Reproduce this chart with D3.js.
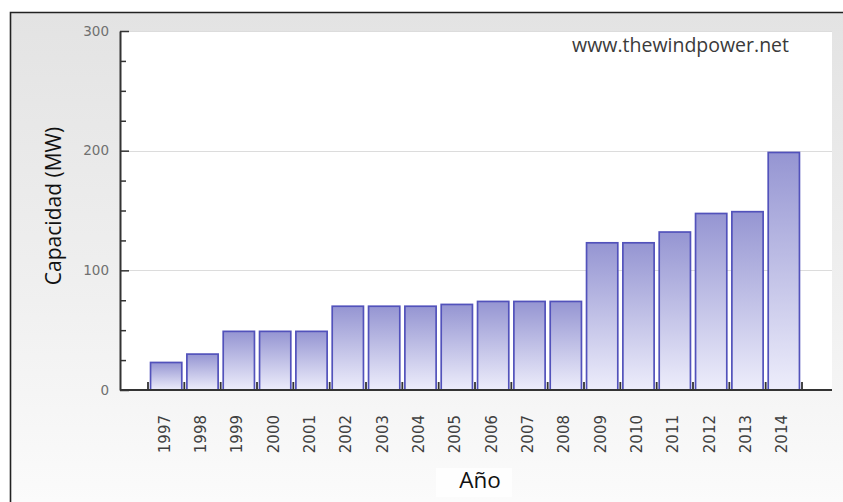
<!DOCTYPE html>
<html>
<head>
<meta charset="utf-8">
<script src="https://cdn.jsdelivr.net/npm/d3@7"></script>
<style>
  body { margin: 0; background: #fff; }
  svg { display: block; }
</style>
</head>
<body>
<script>
// Installed wind capacity per year (MW)
const years = ["1997","1998","1999","2000","2001","2002","2003","2004","2005",
               "2006","2007","2008","2009","2010","2011","2012","2013","2014"];
const capacity = [23, 30, 49, 49, 49, 70, 70, 70, 71.5,
                  74, 74, 74, 123, 123, 132, 147.5, 149, 198.5];
const yMajorTicks = [0, 100, 200, 300];
const yMinorTicks = [25, 50, 75, 125, 150, 175, 225, 250, 275];
const yTitle = "Capacidad (MW)";
const xTitle = "Año";
const sourceNote = "www.thewindpower.net";

const W = 843, H = 502;
const plot = { left: 120, right: 832, top: 31, bottom: 390 };

const svg = d3.select("body").append("svg")
  .attr("width", W).attr("height", H);

const defs = svg.append("defs");

const bg = defs.append("linearGradient")
  .attr("id", "bgGrad").attr("x1", 0).attr("y1", 0).attr("x2", 0).attr("y2", 1);
bg.append("stop").attr("offset", "0%").attr("stop-color", "#e3e3e3");
bg.append("stop").attr("offset", "55%").attr("stop-color", "#efefef");
bg.append("stop").attr("offset", "100%").attr("stop-color", "#fbfbfb");

const barGrad = defs.append("linearGradient")
  .attr("id", "barGrad").attr("x1", 0).attr("y1", 0).attr("x2", 0).attr("y2", 1);
barGrad.append("stop").attr("offset", "0%").attr("stop-color", "#9595d2");
barGrad.append("stop").attr("offset", "100%").attr("stop-color", "#ededfb");

// Frame background with top/left rule
svg.append("rect")
  .attr("x", 10).attr("y", 12).attr("width", W - 10).attr("height", H - 12)
  .attr("fill", "url(#bgGrad)");
svg.append("path")
  .attr("d", `M10.5,${H}V12.5H${W}`)
  .attr("fill", "none").attr("stroke", "#222").attr("stroke-width", 1.6);

// Plot area
svg.append("rect")
  .attr("x", plot.left).attr("y", plot.top)
  .attr("width", plot.right - plot.left).attr("height", plot.bottom - plot.top)
  .attr("fill", "#ffffff");

const x = d3.scaleBand()
  .domain(years)
  .range([148, 802])
  .paddingInner(0.14)
  .paddingOuter(0.07);

const y = d3.scaleLinear()
  .domain([0, 300])
  .range([plot.bottom, plot.top]);

// Horizontal grid lines
svg.append("g")
  .selectAll("line")
  .data(yMajorTicks.filter(d => d > 0))
  .join("line")
  .attr("x1", plot.left).attr("x2", plot.right)
  .attr("y1", d => Math.round(y(d)) + 0.5).attr("y2", d => Math.round(y(d)) + 0.5)
  .attr("stroke", "#dcdcdc").attr("stroke-width", 1.2);

// Source note
svg.append("text")
  .attr("x", 789).attr("y", 52)
  .attr("text-anchor", "end")
  .attr("font-family", "Open Sans, sans-serif")
  .attr("font-size", 19.5)
  .attr("fill", "#3a3a3a")
  .text(sourceNote);

// Bars
svg.append("g")
  .selectAll("rect")
  .data(years.map((yr, i) => ({ yr, v: capacity[i] })))
  .join("rect")
  .attr("x", d => x(d.yr))
  .attr("y", d => y(d.v))
  .attr("width", x.bandwidth())
  .attr("height", d => y(0) - y(d.v))
  .attr("fill", "url(#barGrad)")
  .attr("stroke", "#5252bb")
  .attr("stroke-width", 1.7);

// Y axis: minor ticks, then major ticks with labels
const yMinor = d3.axisLeft(y).tickValues(yMinorTicks).tickSize(-6).tickSizeOuter(0).tickFormat("");
const yMajor = d3.axisLeft(y).tickValues(yMajorTicks).tickSize(-9).tickSizeOuter(0).tickPadding(11);

const gMinor = svg.append("g").attr("transform", `translate(${plot.left},0)`).call(yMinor);
gMinor.select(".domain").remove();
gMinor.selectAll("line").attr("stroke", "#333").attr("stroke-width", 1.5);

const gY = svg.append("g").attr("transform", `translate(${plot.left},0)`).call(yMajor);
gY.select(".domain").attr("stroke", "#333").attr("stroke-width", 2);
gY.selectAll(".tick line").attr("stroke", "#333").attr("stroke-width", 1.5);
gY.selectAll(".tick text")
  .attr("font-family", "DejaVu Sans, sans-serif")
  .attr("font-size", 13.5)
  .attr("fill", "#707070");

// X axis baseline and band-boundary ticks
svg.append("line")
  .attr("x1", plot.left).attr("x2", plot.right)
  .attr("y1", plot.bottom).attr("y2", plot.bottom)
  .attr("stroke", "#333").attr("stroke-width", 2);

const half = x.step() * x.paddingInner() / 2;
const boundaries = years.map(d => x(d) - half)
  .concat([x(years[years.length - 1]) + x.bandwidth() + half]);
svg.append("g")
  .selectAll("line")
  .data(boundaries)
  .join("line")
  .attr("x1", d => d).attr("x2", d => d)
  .attr("y1", plot.bottom - 8).attr("y2", plot.bottom)
  .attr("stroke", "#333").attr("stroke-width", 1.8);

// Year labels
const xAxis = d3.axisBottom(x).tickSize(0).tickSizeOuter(0).tickPadding(0);
const gX = svg.append("g").attr("transform", `translate(-2,${plot.bottom})`).call(xAxis);
gX.select(".domain").remove();
gX.selectAll(".tick text")
  .attr("transform", "translate(0,25) rotate(-90)")
  .attr("text-anchor", "end")
  .attr("x", 0).attr("y", 0).attr("dy", "0.36em")
  .attr("font-family", "DejaVu Sans, sans-serif")
  .attr("font-size", 15)
  .attr("fill", "#404040");

// Axis titles
svg.append("rect")
  .attr("x", 436).attr("y", 468).attr("width", 76).attr("height", 29)
  .attr("fill", "#fefefe");
svg.append("text")
  .attr("x", 480).attr("y", 488)
  .attr("text-anchor", "middle")
  .attr("font-family", "Open Sans, sans-serif")
  .attr("font-size", 22.5)
  .attr("fill", "#111")
  .text(xTitle);

svg.append("text")
  .attr("transform", "translate(61,206) rotate(-90)")
  .attr("text-anchor", "middle")
  .attr("font-family", "Open Sans, sans-serif")
  .attr("font-size", 21)
  .attr("fill", "#111")
  .text(yTitle);
</script>
</body>
</html>
